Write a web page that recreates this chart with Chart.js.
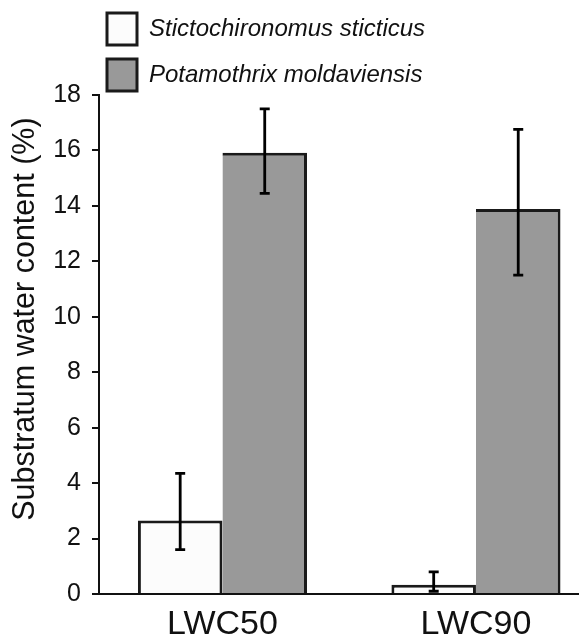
<!DOCTYPE html>
<html>
<head>
<meta charset="utf-8">
<title>Substratum water content</title>
<script src="https://cdn.jsdelivr.net/npm/chart.js@4.4.1/dist/chart.umd.min.js"></script>
<style>
  body { margin: 0; background: #fff; }
  #wrap { width: 581px; height: 642px; }
</style>
</head>
<body>
<div id="wrap"><canvas id="myChart"></canvas></div>
<script>
'use strict';
let categories = ['LWC50', 'LWC90'];
let seriesNames = ['Stictochironomus sticticus', 'Potamothrix moldaviensis'];

// means and error bar ends (bars are not symmetric)
let sticticusMean = [2.65, 0.33];
let sticticusLow = [1.6, 0.1];
let sticticusHigh = [4.35, 0.8];
let moldaviensisMean = [15.92, 13.89];
let moldaviensisLow = [14.45, 11.5];
let moldaviensisHigh = [17.5, 16.76];

let yMin = 0;
let yMax = 18;
let yStep = 2;

let fontFamily = '"Liberation Sans", Arial, sans-serif';

// whiskers drawn from the y scale
const errorBars = {
  id: 'errorBars',
  afterDatasetsDraw(chart) {
    const ctx = chart.ctx;
    const yScale = chart.scales.y;
    ctx.save();
    ctx.strokeStyle = '#000';
    ctx.lineWidth = 2.8;
    chart.data.datasets.forEach(function(ds, i) {
      chart.getDatasetMeta(i).data.forEach(function(bar, j) {
        let top = yScale.getPixelForValue(ds.errHigh[j]);
        let bottom = yScale.getPixelForValue(ds.errLow[j]);
        ctx.beginPath();
        ctx.moveTo(bar.x, top);
        ctx.lineTo(bar.x, bottom);
        ctx.moveTo(bar.x - 5, top);
        ctx.lineTo(bar.x + 5, top);
        ctx.moveTo(bar.x - 5, bottom);
        ctx.lineTo(bar.x + 5, bottom);
        ctx.stroke();
      });
    });
    ctx.restore();
  }
};

// the legend sits over the plot, starting at the axis
const legendNudge = {
  id: 'legendNudge',
  afterLayout(chart) {
    let lg = chart.legend;
    lg.left += 93;
    lg.right += 93;
    lg.top += 6;
    lg.bottom += 6;
  }
};

const data = {
  labels: categories,
  datasets: [{
    label: seriesNames[0],
    data: sticticusMean,
    errLow: sticticusLow,
    errHigh: sticticusHigh,
    backgroundColor: '#fcfcfc',
    borderColor: '#1a1a1a',
    borderWidth: {top: 3, left: 3, right: 3, bottom: 0}
  },
  {
    label: seriesNames[1],
    data: moldaviensisMean,
    errLow: moldaviensisLow,
    errHigh: moldaviensisHigh,
    backgroundColor: '#999999',
    borderColor: '#1a1a1a',
    borderWidth: {top: 3, left: 0, right: 3, bottom: 0}
  }]
};

const config = {
  type: 'bar',
  data: data,
  options: {
    responsive: true,
    maintainAspectRatio: false,
    animation: false,
    categoryPercentage: 0.667,
    barPercentage: 1,
    layout: {
      padding: {top: -7, right: 3, bottom: 0, left: 0}
    },
    plugins: {
      tooltip: {enabled: false},
      legend: {
        position: 'top',
        align: 'start',
        labels: {
          boxWidth: 30,
          boxHeight: 32,
          padding: 14,
          color: '#111',
          font: {family: fontFamily, size: 24, style: 'italic'},
          generateLabels: function(chart) {
            let items = Chart.defaults.plugins.legend.labels.generateLabels(chart);
            items.forEach(function(it) {
              it.lineWidth = 3;
            });
            return items;
          }
        }
      }
    },
    scales: {
      x: {
        grid: {display: false, drawTicks: false},
        border: {display: true, color: '#111', width: 2},
        ticks: {
          color: '#111',
          padding: 10,
          font: {family: fontFamily, size: 34}
        },
        afterBuildTicks: function(scale) {
          // first group sits further from the y axis than the last one from the end
          scale._startValue = -0.487;
          scale._valueRange = 1.8895;
        },
        afterFit: function(scale) {
          scale.height = 48;
        }
      },
      y: {
        min: yMin,
        max: yMax,
        grid: {
          drawOnChartArea: false,
          drawTicks: true,
          tickLength: 7,
          color: '#111',
          lineWidth: 2
        },
        border: {display: true, color: '#111', width: 2},
        ticks: {
          stepSize: yStep,
          color: '#111',
          padding: 11,
          font: {family: fontFamily, size: 25}
        },
        title: {
          display: true,
          text: '      Substratum water content (%)',
          color: '#111',
          padding: {top: 7, bottom: 0},
          font: {family: fontFamily, size: 30.5}
        },
        afterFit: function(scale) {
          scale.width = 99;
        }
      }
    }
  },
  plugins: [errorBars, legendNudge]
};

let myChart = new Chart(document.getElementById('myChart'), config);
</script>
</body>
</html>
